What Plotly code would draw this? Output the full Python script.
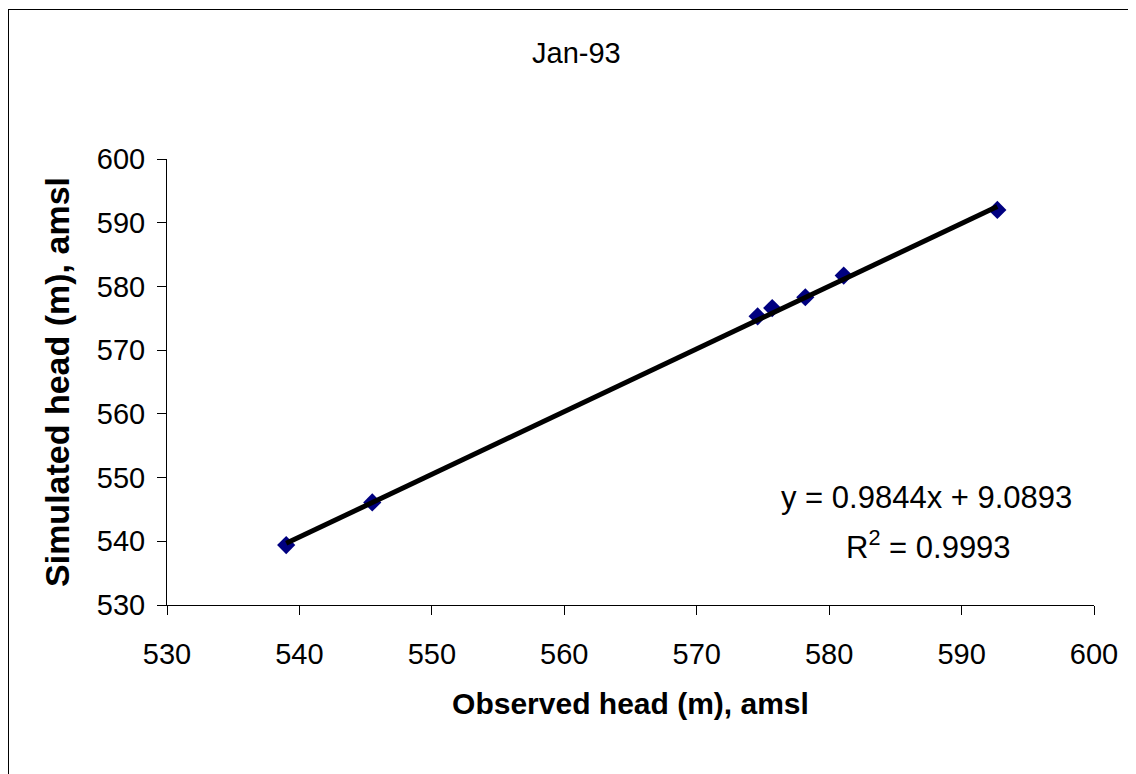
import plotly.graph_objects as go

# Data
observed = [539.0, 545.5, 574.6, 575.7, 578.2, 581.1, 592.7]
simulated = [539.4, 546.1, 575.3, 576.6, 578.3, 581.7, 592.0]

slope = 0.9844
intercept = 9.0893
r_squared = 0.9993

title_text = "Jan-93"
x_title = "Observed head (m), amsl"
y_title = "Simulated head (m), amsl"
tick_vals = [530, 540, 550, 560, 570, 580, 590, 600]

x_min, x_max = min(observed), max(observed)
trend_x = [x_min, x_max]
trend_y = [slope * v + intercept for v in trend_x]

OFF = 8  # page body offset
W, H = 1128, 766
ml, mr, mt, mb = 159, 42, 151, 169
pw = W - ml - mr
ph = H - mt - mb

def px(p):  # page pixel -> paper x
    return (p - OFF - ml) / pw

def py(p):  # page pixel -> paper y
    return (H - mb - (p - OFF)) / ph

FONT = "Liberation Sans, Arial, sans-serif"

fig = go.Figure()
fig.add_trace(go.Scatter(
    x=observed, y=simulated, mode="markers",
    marker=dict(symbol="diamond", size=14, color="#000080",
                line=dict(width=0)),
    showlegend=False, hoverinfo="x+y"))
fig.add_trace(go.Scatter(
    x=trend_x, y=trend_y, mode="lines",
    line=dict(color="black", width=5),
    showlegend=False, hoverinfo="skip"))

axis_common = dict(
    range=[530, 600], tickvals=tick_vals, showgrid=False, zeroline=False,
    showline=True, linecolor="black", linewidth=1,
    ticks="outside", ticklen=9, tickwidth=1, tickcolor="black",
    tickfont=dict(family=FONT, size=29, color="black"),
    mirror=False,
)

fig.update_layout(
    width=W, height=H,
    margin=dict(l=ml, r=mr, t=mt, b=mb, autoexpand=False),
    paper_bgcolor="white", plot_bgcolor="white",
    xaxis=dict(**axis_common, ticklabelstandoff=14,
               title=dict(text=x_title, standoff=24,
                          font=dict(family=FONT, size=30, color="black", weight="bold"))),
    yaxis=dict(**axis_common, ticklabelstandoff=6,
               title=dict(text=y_title, standoff=16,
                          font=dict(family=FONT, size=34, color="black", weight="bold"))),
    font=dict(family=FONT, color="black"),
    showlegend=False,
)

annotations = [
    dict(text=title_text, x=px(576), y=py(53), xref="paper", yref="paper",
         showarrow=False, font=dict(family=FONT, size=29, color="black"),
         xanchor="center", yanchor="middle"),
    dict(text=f"y = {slope}x + {intercept}", x=px(926), y=py(497),
         xref="paper", yref="paper", showarrow=False,
         font=dict(family=FONT, size=31, color="black"),
         xanchor="center", yanchor="middle"),
    dict(text=f"R<sup>2</sup> = {r_squared}", x=px(928), y=py(545),
         xref="paper", yref="paper", showarrow=False,
         font=dict(family=FONT, size=31, color="black"),
         xanchor="center", yanchor="middle"),
]
fig.update_layout(annotations=annotations)

# Outer chart-area border (top and left edges visible)
fig.add_shape(type="line", xref="paper", yref="paper",
              x0=px(8), x1=px(OFF + W + 5), y0=py(9.5), y1=py(9.5),
              line=dict(color="black", width=1))
fig.add_shape(type="line", xref="paper", yref="paper",
              x0=px(8.5), x1=px(8.5), y0=py(9), y1=py(OFF + H + 5),
              line=dict(color="black", width=1))

fig.write_html("out.html")
